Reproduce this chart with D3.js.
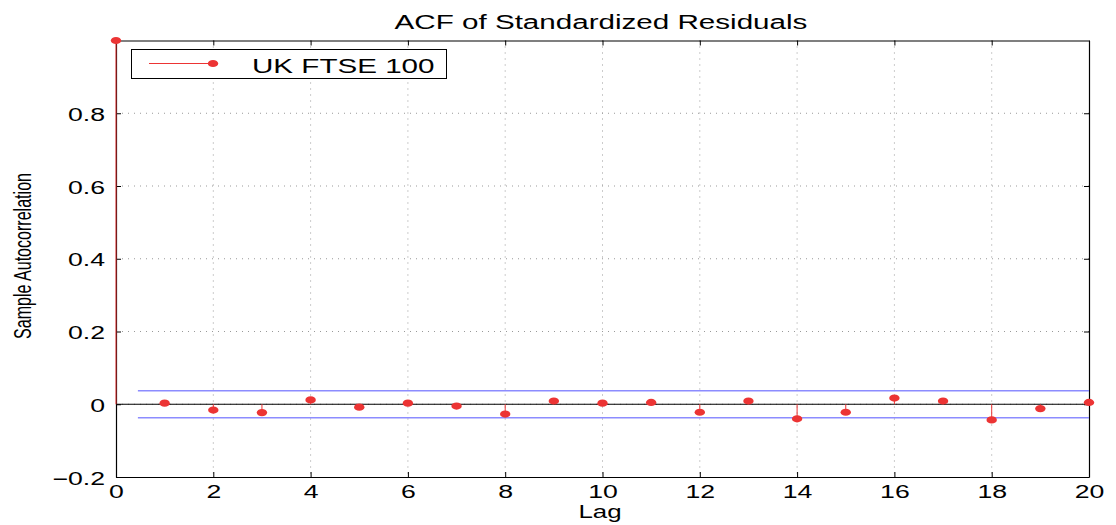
<!DOCTYPE html>
<html>
<head>
<meta charset="utf-8">
<script src="https://cdn.jsdelivr.net/npm/d3@7"></script>
<style>
  body { margin: 0; background: #fff; }
  text { font-family: "Liberation Sans", Arial, sans-serif; fill: #000; }
</style>
</head>
<body>
<div id="chart"></div>
<script>
// sample autocorrelation of standardized residuals
const lags = [0, 1, 2, 3, 4, 5, 6, 7, 8, 9, 10, 11, 12, 13, 14, 15, 16, 17, 18, 19, 20];
const acf = [1.0, 0.003, -0.016, -0.023, 0.012, -0.008, 0.003, -0.005, -0.027, 0.009,
	0.003, 0.005, -0.022, 0.009, -0.040, -0.022, 0.017, 0.009, -0.043, -0.012, 0.005];
const bounds = [0.037, -0.037];
const xTicks = [0, 2, 4, 6, 8, 10, 12, 14, 16, 18, 20];
const yTicks = [-0.2, 0, 0.2, 0.4, 0.6, 0.8];
const seriesName = 'UK FTSE 100';

var margin = { top: 40.5, right: 27, bottom: 48, left: 116 },
	width = 1116 - margin.left - margin.right,
	height = 525 - margin.top - margin.bottom;

// the original image is stretched horizontally
var sx = 1.48;
var red = 'rgb(236,52,52)';

var root = d3.select('#chart').append('svg')
	.attr('width', 1116)
	.attr('height', 525);

var svg = root.append('g')
	.attr('transform', 'translate(' + margin.left + ',' + margin.top + ')');

var x = d3.scaleLinear().domain([0, 20]).range([0, width]);
var y = d3.scaleLinear().domain([-0.2, 1.0]).range([height, 0]);

// grid
svg.selectAll('.gx')
	.data(xTicks.filter((d) => d > 0 && d < 20))
	.enter().append('line')
	.attr('x1', (d) => x(d)).attr('x2', (d) => x(d))
	.attr('y1', 0).attr('y2', height)
	.attr('stroke', '#999').attr('stroke-width', 1)
	.attr('stroke-dasharray', '1,5');
svg.selectAll('.gy')
	.data(yTicks.filter((d) => d > -0.2))
	.enter().append('line')
	.attr('x1', 0).attr('x2', width)
	.attr('y1', (d) => y(d)).attr('y2', (d) => y(d))
	.attr('stroke', '#999').attr('stroke-width', 1)
	.attr('stroke-dasharray', '1,5');

// axes (ticks inside, on all four sides)
var xAxis = svg.append('g')
	.attr('transform', 'translate(0,' + height + ')')
	.call(d3.axisBottom(x).tickValues(xTicks).tickSizeInner(-5).tickSizeOuter(0).tickPadding(8).tickFormat(d3.format('d')));
var yAxis = svg.append('g')
	.call(d3.axisLeft(y).tickValues(yTicks).tickSizeInner(-5).tickSizeOuter(0).tickPadding(8)
		.tickFormat((d) => d === 0 ? '0' : d3.format('.1f')(d).replace('-', '\u2212')));
svg.append('g')
	.call(d3.axisTop(x).tickValues(xTicks).tickSizeInner(-5).tickSizeOuter(0).tickFormat(''));
svg.append('g')
	.attr('transform', 'translate(' + width + ',0)')
	.call(d3.axisRight(y).tickValues(yTicks).tickSizeInner(-5).tickSizeOuter(0).tickFormat(''));

svg.selectAll('.domain').attr('stroke', '#000').attr('stroke-width', 1.2);
svg.selectAll('.tick line').attr('stroke', '#000');

xAxis.selectAll('text')
	.attr('font-size', 18)
	.attr('transform', 'scale(' + sx + ',1)');
yAxis.selectAll('text')
	.attr('font-size', 18)
	.attr('x', -11 / sx)
	.attr('dy', '0.4em')
	.attr('transform', 'scale(' + sx + ',1)');

// confidence bounds
svg.selectAll('.bound')
	.data(bounds)
	.enter().append('line')
	.attr('x1', x(0.45)).attr('x2', x(20))
	.attr('y1', (d) => y(d)).attr('y2', (d) => y(d))
	.attr('stroke', 'rgb(140,140,255)').attr('stroke-width', 1.5);

// zero line
svg.append('line')
	.attr('x1', x(0)).attr('x2', x(20))
	.attr('y1', y(0)).attr('y2', y(0))
	.attr('stroke', '#000').attr('stroke-width', 1.2);

// stems
svg.selectAll('.stem')
	.data(lags)
	.enter().append('line')
	.attr('x1', (d) => x(d)).attr('x2', (d) => x(d))
	.attr('y1', y(0)).attr('y2', (d, i) => y(acf[i]))
	.attr('stroke', red).attr('stroke-width', 1);

svg.selectAll('.dot')
	.data(lags)
	.enter().append('ellipse')
	.attr('cx', (d) => x(d))
	.attr('cy', (d, i) => y(acf[i]))
	.attr('rx', 5.2).attr('ry', 3.6)
	.attr('fill', red);

// legend
var lg = root.append('g');
lg.append('rect')
	.attr('x', 131.5).attr('y', 49.5).attr('width', 315).attr('height', 29)
	.attr('fill', '#fff').attr('stroke', '#000').attr('stroke-width', 1);
lg.append('line')
	.attr('x1', 149).attr('x2', 213).attr('y1', 63.5).attr('y2', 63.5)
	.attr('stroke', red).attr('stroke-width', 1);
lg.append('ellipse')
	.attr('cx', 213).attr('cy', 63.5).attr('rx', 5.2).attr('ry', 3.6)
	.attr('fill', red);
lg.append('text')
	.attr('transform', 'translate(252,73) scale(' + sx + ',1)')
	.attr('font-size', 20)
	.text(seriesName);

// title and labels
root.append('text')
	.attr('transform', 'translate(601,29) scale(' + sx + ',1)')
	.attr('text-anchor', 'middle')
	.attr('font-size', 20)
	.text('ACF of Standardized Residuals');
root.append('text')
	.attr('transform', 'translate(600,518) scale(' + sx + ',1)')
	.attr('text-anchor', 'middle')
	.attr('font-size', 17.5)
	.text('Lag');
root.append('text')
	.attr('transform', 'translate(31,256) scale(' + sx + ',1) rotate(-90)')
	.attr('text-anchor', 'middle')
	.attr('font-size', 16.5)
	.attr('textLength', 166)
	.attr('lengthAdjust', 'spacingAndGlyphs')
	.text('Sample Autocorrelation');
</script>
</body>
</html>
